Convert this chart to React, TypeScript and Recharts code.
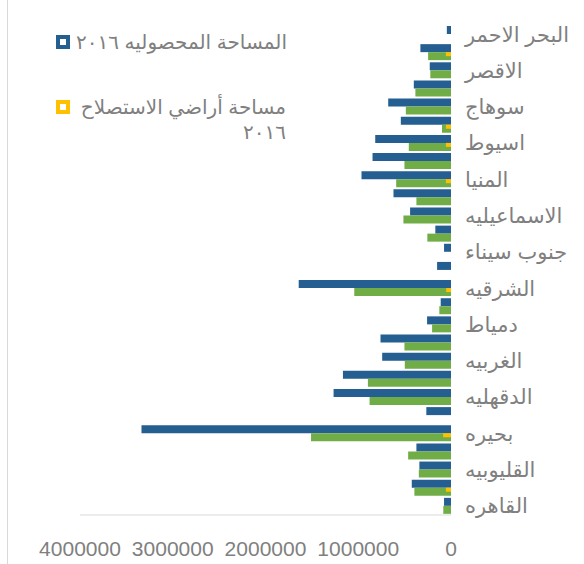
import { BarChart, Bar, XAxis, YAxis } from 'recharts';

// governorates, top to bottom
const governorates = [
  'البحر الاحمر', 'أسوان', 'الاقصر', 'قنا', 'سوهاج', 'الوادي الجديد', 'اسيوط',
  'بني سويف', 'المنيا', 'الفيوم', 'الاسماعيليه', 'السويس', 'جنوب سيناء',
  'شمال سيناء', 'الشرقيه', 'بورسعيد', 'دمياط', 'كفر الشيخ', 'الغربيه',
  'المنوفيه', 'الدقهليه', 'الاسكندريه', 'بحيره', 'مطروح', 'القليوبيه',
  'الجيزه', 'القاهره',
];

const cropArea = [
  45000, 330000, 229000, 401000, 677000, 541000, 817000, 846000, 965000,
  620000, 441000, 169000, 75000, 150000, 1642000, 111000, 258000, 760000,
  742000, 1165000, 1266000, 266000, 3337000, 373000, 341000, 423000, 75000,
];

const cultivatedArea = [
  0, 247000, 223000, 384000, 487000, 97000, 455000, 502000, 591000,
  373000, 513000, 255000, 0, 0, 1043000, 126000, 204000, 502000,
  498000, 896000, 878000, 0, 1509000, 462000, 347000, 395000, 83000,
];

const reclaimedArea = [
  0, 55000, 0, 0, 0, 55000, 55000, 0, 55000,
  0, 0, 0, 0, 0, 52000, 0, 0, 0,
  0, 0, 0, 0, 85000, 0, 0, 55000, 0,
];

const xTicks = [0, 1000000, 2000000, 3000000, 4000000];

const cropName = 'المساحة المحصوليه ٢٠١٦';
const reclaimedName = 'مساحة أراضي الاستصلاح ٢٠١٦';

const BLUE = '#255E91';
const GREEN = '#70AD47';
const YELLOW = '#FFC000';
const TEXT = '#808080';
const FONT = '"Liberation Sans", "DejaVu Sans", Arial, sans-serif';

const data = governorates.map((name, i) => ({
  name,
  crop: cropArea[i],
  cultivated: cultivatedArea[i],
  reclaimed: reclaimedArea[i],
}));

// yellow sits a bit below the band centre, over the top of the green bar
// (axis is reversed so width comes in negative)
const ReclaimedShape = (props: any) => {
  let { x, y, width, height } = props;
  if (!width) return null;
  if (width < 0) {
    x += width;
    width = -width;
  }
  return <rect x={x} y={y + 2} width={width} height={height} fill={YELLOW} />;
};

function LegendMarker({ color }: { color: string }) {
  return (
    <span
      style={{
        display: 'inline-block',
        width: 6,
        height: 6,
        border: `4px solid ${color}`,
        background: '#fff',
        flex: 'none',
        marginTop: 5,
      }}
    />
  );
}

export default function App() {
  return (
    <div style={{ position: 'relative', width: 584, height: 564, fontFamily: FONT }}>
      <style>{'body{margin:0}'}</style>
      <div style={{ position: 'absolute', left: 7, top: 0, width: 1, height: 564, background: '#d9d9d9' }} />

      <BarChart
        width={584}
        height={564}
        data={data}
        layout="vertical"
        margin={{ top: 25, right: 0, left: 80, bottom: 0 }}
        barGap={0}
      >
        <XAxis
          type="number"
          domain={[0, 4000000]}
          ticks={xTicks}
          reversed
          height={49}
          tickLine={false}
          tickMargin={20}
          axisLine={{ stroke: '#d9d9d9' }}
          tick={{ fill: TEXT, fontSize: 21, fontFamily: 'Liberation Sans' }}
          tickFormatter={(v) => String(v)}
        />
        <YAxis
          type="category"
          dataKey="name"
          orientation="right"
          width={133}
          interval={1}
          axisLine={false}
          tickLine={false}
          tickMargin={8}
          tick={{ fill: TEXT, fontSize: 21, fontFamily: FONT }}
        />
        <YAxis yAxisId="over" type="category" dataKey="name" orientation="right" hide />
        <Bar dataKey="crop" name={cropName} fill={BLUE} barSize={8} isAnimationActive={false} />
        <Bar dataKey="cultivated" fill={GREEN} barSize={8} isAnimationActive={false} />
        <Bar
          dataKey="reclaimed"
          name={reclaimedName}
          yAxisId="over"
          fill={YELLOW}
          barSize={4}
          shape={ReclaimedShape}
          isAnimationActive={false}
        />
      </BarChart>

      {/* Legend */}
      <div style={{ position: 'absolute', left: 56, top: 30, width: 230, color: TEXT, fontSize: 20, lineHeight: '25px' }}>
        <div style={{ display: 'flex', alignItems: 'flex-start', gap: 6 }}>
          <LegendMarker color={BLUE} />
          <span style={{ direction: 'rtl', textAlign: 'right', flex: 1, whiteSpace: 'nowrap' }}>{cropName}</span>
        </div>
        <div style={{ display: 'flex', alignItems: 'flex-start', gap: 6, marginTop: 40 }}>
          <LegendMarker color={YELLOW} />
          <span style={{ direction: 'rtl', textAlign: 'right', flex: 1, whiteSpace: 'nowrap' }}>
            {reclaimedName.split(' ').slice(0, 3).join(' ')}
            <br />
            {reclaimedName.split(' ').slice(3).join(' ')}
          </span>
        </div>
      </div>
    </div>
  );
}
